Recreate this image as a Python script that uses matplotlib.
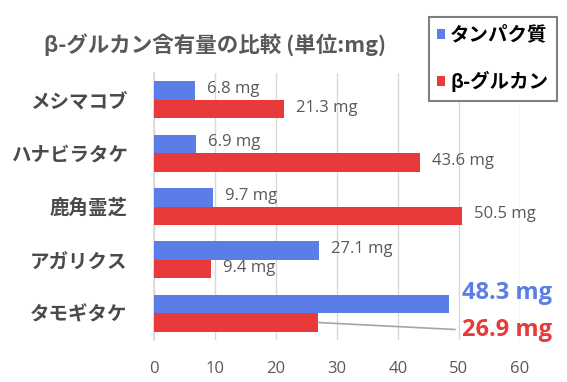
import matplotlib
matplotlib.use("Agg")
import matplotlib.pyplot as plt
from matplotlib import font_manager
from matplotlib.patches import Patch
import numpy as np

categories = ["メシマコブ", "ハナビラタケ", "鹿角霊芝", "アガリクス", "タモギタケ"]
protein = [6.8, 6.9, 9.7, 27.1, 48.3]
glucan = [21.3, 43.6, 50.5, 9.4, 26.9]
series_names = ["タンパク質", "β-グルカン"]
xticks = [0, 10, 20, 30, 40, 50, 60]
title = "β-グルカン含有量の比較 (単位:mg)"

names = {f.name for f in font_manager.fontManager.ttflist}
num_font = "Liberation Sans Narrow" if "Liberation Sans Narrow" in names else "Open Sans"
jp_font = "Noto Sans CJK JP"
plt.rcParams["font.family"] = [num_font, jp_font, "DejaVu Sans"]

BLUE = "#5A7DE8"
RED = "#E8393B"
GRID = "#d9d9d9"
GRAY = "#595959"

fig = plt.figure(figsize=(5.67, 3.82), dpi=100)
ax = fig.add_axes([154/567, 1-340/382, (520-154)/567, (340-73)/382])

y = np.arange(len(categories))
h = 0.346
ax.barh(y - h/2, protein, height=h, color=BLUE, zorder=3)
ax.barh(y + h/2, glucan, height=h, color=RED, zorder=3)

ax.set_xlim(0, 60)
ax.set_ylim(len(categories) - 0.5, -0.5)
ax.set_xticks(xticks)
ax.set_xticklabels([str(t) for t in xticks], fontsize=12, color=GRAY, family=[num_font, "DejaVu Sans"])
ax.set_yticks(y)
ax.set_yticklabels(categories, fontsize=14, color="#4a4a4a", fontweight="bold", family=[jp_font])
ax.tick_params(axis="both", length=0)
ax.tick_params(axis="x", pad=15)
ax.tick_params(axis="y", pad=19)
for s in ["top", "right", "bottom"]:
    ax.spines[s].set_visible(False)
ax.spines["left"].set_color(GRID)
ax.spines["left"].set_linewidth(1.2)
ax.grid(axis="x", color=GRID, linewidth=1, zorder=0)
ax.set_axisbelow(True)

# regular data labels
for i in range(len(categories) - 1):
    ax.annotate(f"{protein[i]} mg", xy=(protein[i], y[i] - h/2), xytext=(8.5, 1),
                textcoords="offset points", ha="left", va="center",
                fontsize=12, color=GRAY, family=[num_font, "DejaVu Sans"], zorder=4)
    ax.annotate(f"{glucan[i]} mg", xy=(glucan[i], y[i] + h/2), xytext=(8.5, 1),
                textcoords="offset points", ha="left", va="center",
                fontsize=12, color=GRAY, family=[num_font, "DejaVu Sans"], zorder=4)

# highlighted labels for last category
i = len(categories) - 1
ax.annotate(f"{protein[i]} mg", xy=(50.5, 3.62), xycoords="data",
            ha="left", va="center", fontsize=17, fontweight="bold", color=BLUE,
            family=[num_font, "DejaVu Sans"], annotation_clip=False, zorder=4)
ax.annotate(f"{glucan[i]} mg", xy=(glucan[i], y[i] + h/2), xytext=(50.5, 4.31),
            textcoords="data", ha="left", va="center", fontsize=17, fontweight="bold",
            color=RED, family=[num_font, "DejaVu Sans"], annotation_clip=False, zorder=4,
            arrowprops=dict(arrowstyle="-", color="#a6a6a6", lw=1.2, shrinkA=3, shrinkB=0,
                            relpos=(0, 0.5)))

fig.text(215/567, 1-45/382, title, ha="center", va="center", fontsize=15.5,
         fontweight="bold", color=GRAY, family=[jp_font])

handles = [Patch(facecolor=BLUE, edgecolor="none"), Patch(facecolor=RED, edgecolor="none")]
leg = fig.legend(handles, series_names, loc="upper right",
                 bbox_to_anchor=(557/567, 1-17/382), bbox_transform=fig.transFigure,
                 frameon=True, fancybox=False, framealpha=1, edgecolor="#7f7f7f",
                 prop=dict(family=[jp_font], weight="bold", size=14),
                 handlelength=0.4, handleheight=0.4, handletextpad=0.25,
                 labelspacing=1.35, borderpad=0.45, borderaxespad=0)
leg.get_frame().set_linewidth(1.5)

fig.savefig("out.png", dpi=100, facecolor="white")
